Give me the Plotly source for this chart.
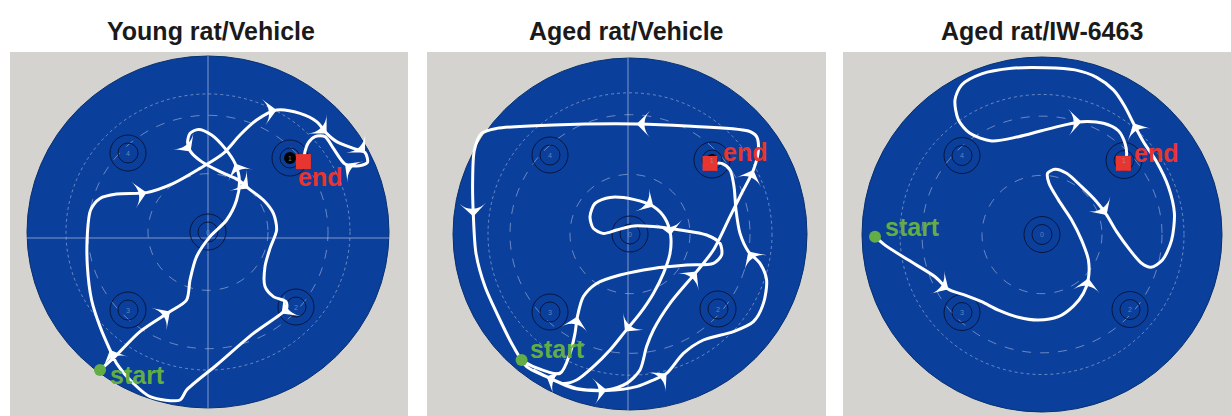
import math
import plotly.graph_objects as go

FIG_W, FIG_H = 1231, 416

panel_titles = ["Young rat/Vehicle", "Aged rat/Vehicle", "Aged rat/IW-6463"]

# swim tracks, cm, pool centre at origin (x right, y up)
young_path = [(-54, -69), (-46.5, -62.3), (-34, -49.8), (-19, -39.8), (-10.7, -34), (-9, -24),
              (-5.7, -12.3), (1, -2.3), (9.3, 6), (14.3, 16), (15.7, 26), (13.5, 34.3), (8.5, 41.8),
              (1.8, 48.5), (-4.8, 51.3), (-9, 49.3), (-10.2, 44.7), (-8.7, 40.2), (-3.2, 35.2),
              (6, 30.2), (15.2, 26), (20.2, 21.8), (27.7, 16), (32.7, 9.3), (34.3, 1), (31, -8.2),
              (28.5, -17.3), (28.5, -27.3), (32.7, -32.3), (39, -34.8), (39.3, -38.2), (36.8, -40.7),
              (22.7, -50.7), (4.3, -66.5), (-10.7, -79), (-14, -84), (-29, -82.3), (-37.3, -75.7),
              (-45.7, -65.7), (-49, -59), (-54, -47.3), (-58.2, -34), (-60.3, -17.3), (-60.3, -0.7),
              (-58.7, 11), (-54, 16.8), (-45.7, 19), (-30.7, 19.7), (-17.3, 24.3), (-4, 31.8),
              (7.7, 39.3), (16, 48.5), (24.3, 56), (34.3, 61), (46, 59.3), (54.3, 55.2), (59.3, 49.3),
              (64.3, 45.2), (72.7, 41.8), (78.5, 39.7), (79.7, 34.7), (74.3, 33), (68.5, 34),
              (62.7, 41.8), (58.5, 47.7), (53.5, 47.7), (50.2, 44.7), (48.5, 40.2), (48, 36)]
young_arrows = [3, 11, 17, 21, 31, 39, 47, 53, 56, 59, 62]

aged_vehicle_path = [(-54.2, -63), (-48.3, -66.3), (-35, -69.7), (-30, -59.7), (-27.5, -49.7),
                     (-26.3, -41.3), (-23.3, -31.3), (-16.7, -24.7), (-5, -20.5), (11.7, -17.2),
                     (28.3, -15.5), (41.7, -14.7), (45.8, -10.5), (45, -4.7), (38.3, -0.5), (25, 2),
                     (11.7, 3.7), (1.7, 4), (-6.7, 2), (-13.3, 0.3), (-18.3, 2.8), (-20, 8.7),
                     (-17.5, 15.3), (-10, 18.3), (1.7, 17.3), (11.7, 13.7), (17.5, 7.8), (20.3, -0.5),
                     (20, -9.7), (16.7, -19.7), (11.7, -29.7), (5, -39.7), (-2.5, -48.8), (-10, -58),
                     (-18.3, -66.3), (-26.7, -73), (-33.3, -74.7), (-41.7, -71.3), (-48.3, -68),
                     (-38.3, -73), (-26.7, -77.2), (-11.7, -78), (-1.7, -74.7), (5, -68), (8.3, -56.3),
                     (11.7, -48), (20, -34.7), (33.3, -18.8), (41.7, -8), (50, 8.7), (55.8, 20.3),
                     (61.7, 32), (64.2, 42), (63.3, 48.7), (59.2, 51.5), (28.3, 54), (3.3, 55),
                     (-38.3, 54.5), (-66.7, 52.8), (-74.2, 50.3), (-77.8, 42), (-78.7, 25.3),
                     (-78.3, 8.7), (-77, -9.7), (-72.5, -26.3), (-65, -43), (-58.3, -56.3),
                     (-51.7, -66.3), (-41.7, -71.3), (-28.3, -77.2), (-11.7, -78.3), (3.3, -76.3),
                     (11.7, -73), (18.3, -69.7), (26.7, -59.7), (36.7, -53), (51.7, -48.8),
                     (61.7, -43.8), (66.7, -34.7), (68.3, -23), (65, -14.7), (59.2, -8.8), (55, 0.3),
                     (53, 12), (52, 23.7), (50, 32), (45.8, 35.3), (40.8, 35.3)]
aged_vehicle_arrows = [56, 62, 51, 47, 5, 25, 27, 32, 81, 73, 37, 41]

aged_iw_path = [(-83.5, -1.1), (-78.5, -5.3), (-66.8, -12.8), (-53.5, -21.1), (-46.8, -27.4),
                (-38.5, -30.3), (-30.2, -33.6), (-21.8, -37.8), (-11.8, -41.4), (-1.8, -42.8),
                (8.2, -41.1), (15.7, -35.8), (20.7, -29.4), (23.2, -21.9), (23.2, -12.8),
                (19.8, -2.8), (14.8, 7.3), (8.2, 17.3), (3.5, 25.6), (2.8, 30.6), (6.5, 32.6),
                (12.3, 30.6), (19.8, 23.9), (27.3, 16.4), (32.3, 9.8), (37.3, 1.4), (44, -7.8),
                (49.8, -14.4), (54.5, -16.4), (60.2, -12.8), (64.8, -2.8), (66.2, 10.6),
                (63.2, 23.9), (57.3, 36.4), (50.7, 46.4), (45.7, 55.6), (41.5, 63.9), (35.7, 72.3),
                (27.3, 78.6), (16.5, 82.3), (1.5, 83.4), (-15.2, 83.1), (-30.2, 80.3),
                (-40.2, 74.8), (-43.5, 67.3), (-41.8, 57.3), (-36, 50.6), (-25.2, 46.8),
                (-11.8, 48.9), (-0.2, 51.9), (11.5, 54.8), (19.8, 56.4), (30.7, 55.6), (38.2, 51.9),
                (41.5, 45.6), (42.3, 39.8), (41.2, 35.6)]
aged_iw_arrows = [4, 13, 24, 35, 51]

paths = [young_path, aged_vehicle_path, aged_iw_path]
arrow_idx = [young_arrows, aged_vehicle_arrows, aged_iw_arrows]

start_points = [(-54, -69), (-54.2, -63), (-83.5, -1.1)]
end_points = [(47.7, 35.2), (40, 35.3), (40.7, 35.6)]
start_label_pos = [(-50, -71.5), (-51, -57.5), (-79.5, 3.8)]
end_label_pos = [(44, 27.5), (45.5, 41), (45, 40.8)]

platform_x = [0, 41, 44, -40, -40]
platform_y = [0, 37, -37.5, -39, 39.5]
platform_labels = ["0", "1", "2", "3", "4"]
ring_radii = [30, 60, 71]

# layout geometry per panel (pixel domains, ranges in cm)
panels = [
    dict(dom=(10, 408), xr=(-99, 100), yr=(-92, 90), rx=90.5, ry=88, vline=0, hline=-3, tx=211, dot=True),
    dict(dom=(427, 826), xr=(-101.5, 98), yr=(-91, 91), rx=88.5, ry=88, vline=-1, hline=None, tx=627, dot=True),
    dict(dom=(843, 1231), xr=(-99.5, 94.5), yr=(-90.75, 91.25), rx=90, ry=88.75, vline=None, hline=None, tx=1042, dot=False),
]

POOL = "#0b3f9c"
GRAY = "#d4d3cf"
RING = "rgba(170,185,220,0.6)"
DARK = "#07163f"
GREEN = "#62ad45"
RED = "#e8352f"
FONT = "Liberation Sans, Arial, sans-serif"

fig = go.Figure()
shapes = []
annotations = []

for k, p in enumerate(panels):
    sfx = "" if k == 0 else str(k + 1)
    xa, ya = "x" + sfx, "y" + sfx
    rx, ry = p["rx"], p["ry"]
    # pool
    shapes.append(dict(type="circle", xref=xa, yref=ya, x0=-rx, x1=rx, y0=-ry, y1=ry,
                       fillcolor=POOL, line=dict(color="#06306f", width=1), layer="below"))
    # rings
    for r, dash in zip(ring_radii, ["dash", "dash", "dot"]):
        shapes.append(dict(type="circle", xref=xa, yref=ya, x0=-r, x1=r, y0=-r * ry / rx, y1=r * ry / rx,
                           line=dict(color=RING, width=1, dash=dash), layer="below"))
    # crosshair
    if p["vline"] is not None:
        shapes.append(dict(type="line", xref=xa, yref=ya, x0=p["vline"], x1=p["vline"], y0=-ry - 2, y1=ry,
                           line=dict(color="rgba(190,200,225,0.65)", width=1), layer="below"))
    if p["hline"] is not None:
        shapes.append(dict(type="line", xref=xa, yref=ya, x0=-rx, x1=rx, y0=p["hline"], y1=p["hline"],
                           line=dict(color="rgba(190,200,225,0.65)", width=1), layer="below"))
    # platforms
    for px_, py_, lab in zip(platform_x, platform_y, platform_labels):
        shapes.append(dict(type="circle", xref=xa, yref=ya, x0=px_ - 9, x1=px_ + 9, y0=py_ - 9, y1=py_ + 9,
                           line=dict(color=DARK, width=1), layer="below"))
        shapes.append(dict(type="circle", xref=xa, yref=ya, x0=px_ - 5, x1=px_ + 5, y0=py_ - 5, y1=py_ + 5,
                           line=dict(color=DARK, width=1), layer="below"))
        annotations.append(dict(x=px_, y=py_, xref=xa, yref=ya, text=lab, showarrow=False,
                                font=dict(size=7, color="rgba(150,160,200,0.7)", family=FONT)))

    # track
    path = paths[k]
    xs = [q[0] for q in path]
    ys = [q[1] for q in path]
    fig.add_trace(go.Scatter(x=xs, y=ys, mode="lines", xaxis=xa, yaxis=ya,
                             line=dict(color="white", width=3, shape="spline", smoothing=0.8),
                             hoverinfo="skip", showlegend=False))
    # arrowheads
    ax_, ay_, ang = [], [], []
    for i in arrow_idx[k]:
        a = path[max(i - 1, 0)]
        b = path[min(i + 1, len(path) - 1)]
        dx, dy = b[0] - a[0], b[1] - a[1]
        ax_.append(path[i][0])
        ay_.append(path[i][1])
        ang.append(math.degrees(math.atan2(dx, dy)))
    fig.add_trace(go.Scatter(x=ax_, y=ay_, mode="markers", xaxis=xa, yaxis=ya,
                             marker=dict(symbol="arrow-wide", size=19, color="white", angle=ang,
                                         line=dict(width=0)),
                             hoverinfo="skip", showlegend=False))
    # dark platform mark behind end
    if p["dot"]:
        fig.add_trace(go.Scatter(x=[platform_x[1]], y=[platform_y[1]], mode="markers", xaxis=xa, yaxis=ya,
                                 marker=dict(symbol="circle", size=12, color="black"),
                                 hoverinfo="skip", showlegend=False))
    # start / end
    fig.add_trace(go.Scatter(x=[start_points[k][0]], y=[start_points[k][1]], mode="markers",
                             xaxis=xa, yaxis=ya, marker=dict(symbol="circle", size=12, color=GREEN),
                             hoverinfo="skip", showlegend=False))
    fig.add_trace(go.Scatter(x=[end_points[k][0]], y=[end_points[k][1]], mode="markers",
                             xaxis=xa, yaxis=ya, marker=dict(symbol="square", size=15, color=RED),
                             hoverinfo="skip", showlegend=False))
    annotations.append(dict(x=start_label_pos[k][0], y=start_label_pos[k][1], xref=xa, yref=ya,
                            text="<b>start</b>", showarrow=False, xanchor="left", yanchor="middle",
                            font=dict(size=25, color=GREEN, family=FONT)))
    annotations.append(dict(x=end_label_pos[k][0], y=end_label_pos[k][1], xref=xa, yref=ya,
                            text="<b>end</b>", showarrow=False, xanchor="left", yanchor="middle",
                            font=dict(size=25, color=RED, family=FONT)))
    # title
    annotations.append(dict(x=p["tx"] / FIG_W, y=1 - 31 / FIG_H, xref="paper", yref="paper",
                            text="<b>" + panel_titles[k] + "</b>", showarrow=False,
                            xanchor="center", yanchor="middle",
                            font=dict(size=25, color="#1a1a1a", family=FONT)))

    axis_common = dict(visible=False, showgrid=False, zeroline=False, fixedrange=True)
    fig.update_layout(**{
        ("xaxis" + sfx): dict(domain=[p["dom"][0] / FIG_W, p["dom"][1] / FIG_W], range=list(p["xr"]),
                              anchor=ya, **axis_common),
        ("yaxis" + sfx): dict(domain=[0, (FIG_H - 52) / FIG_H], range=list(p["yr"]), anchor=xa,
                              **axis_common),
    })

fig.update_layout(width=FIG_W, height=FIG_H, margin=dict(l=0, r=0, t=0, b=0),
                  paper_bgcolor="white", plot_bgcolor=GRAY, shapes=shapes, annotations=annotations,
                  showlegend=False)

fig.write_html("out.html", config={"displayModeBar": False},
               post_script="document.body.style.margin='0px';document.body.style.overflow='hidden';")
